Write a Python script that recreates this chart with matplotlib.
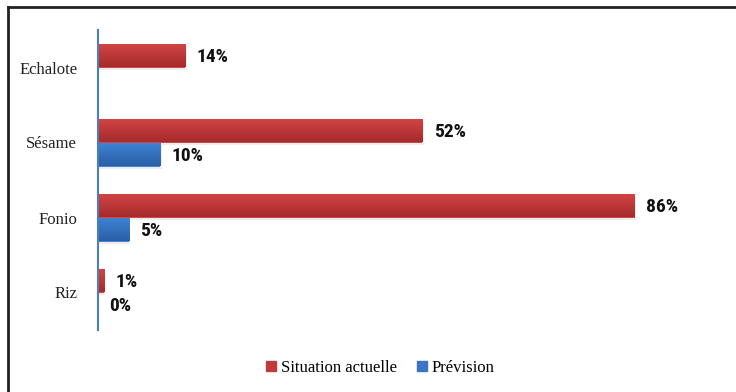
import matplotlib
matplotlib.use("Agg")
import matplotlib.pyplot as plt
import numpy as np
from matplotlib.lines import Line2D
from matplotlib.patches import Patch
from matplotlib.colors import LinearSegmentedColormap
from matplotlib import font_manager

# Data
categories = ["Riz", "Fonio", "Sésame", "Echalote"]
actuelle = [1, 86, 52, 14]      # Situation actuelle (%)
prevision = [0, 5, 10, None]    # Prévision (%), none for Echalote
series_names = ["Situation actuelle", "Prévision"]

red_top, red_bot = "#d44545", "#a52b2c"
blue_top, blue_bot = "#3f84d6", "#2a5fa6"


def pick_label_font(size):
    """Prefer a narrow bold sans face for the value labels."""
    wanted = ["Liberation Sans Narrow", "Roboto Condensed", "Open Sans Condensed",
              "Noto Sans Condensed", "DejaVu Sans"]
    entries = font_manager.fontManager.ttflist
    for fam in wanted:
        for e in entries:
            if e.name == fam and str(e.weight) in ("700", "bold", "800", "900") \
                    and ("ondensed" in str(e.stretch) or "arrow" in e.fname
                         or "ondensed" in e.fname):
                return font_manager.FontProperties(fname=e.fname, size=size)
    return font_manager.FontProperties(family="DejaVu Sans", weight="bold",
                                       stretch="condensed", size=size)


label_fp = pick_label_font(14)

fig = plt.figure(figsize=(7.36, 3.92), dpi=100)
W, H = 736, 392
ax = fig.add_axes([98 / W, 1 - 330 / H, 624 / W, 300 / H])

y = np.arange(len(categories))
h = 0.32


def gradient_bars(bars, top, bot):
    cmap = LinearSegmentedColormap.from_list("g", [bot, top])
    grad = np.linspace(0, 1, 64).reshape(-1, 1)
    for b in bars:
        x0, y0 = b.get_x(), b.get_y()
        w, hh = b.get_width(), b.get_height()
        if w <= 0:
            continue
        # soft drop shadow
        ax.add_patch(plt.Rectangle((x0 + 0.2, y0 - 0.03), w, hh,
                                   color="#000000", alpha=0.07, lw=0, zorder=1))
        im = ax.imshow(grad, extent=(x0, x0 + w, y0, y0 + hh), cmap=cmap,
                       aspect="auto", origin="lower", zorder=2,
                       interpolation="bilinear")
        im.set_clip_path(b)


prev_pos = [yy - h / 2 for yy, v in zip(y, prevision) if v is not None]
prev_vals = [v for v in prevision if v is not None]

bars_a = ax.barh(y + h / 2, actuelle, height=h, color=red_top, zorder=2,
                 label=series_names[0])
bars_p = ax.barh(prev_pos, prev_vals, height=h, color=blue_top, zorder=2,
                 label=series_names[1])
gradient_bars(bars_a, red_top, red_bot)
gradient_bars(bars_p, blue_top, blue_bot)

for yy, v in zip(y + h / 2, actuelle):
    ax.text(v + 1.8, yy - 0.02, f"{v}%", va="center", ha="left",
            fontproperties=label_fp, color="#111111")
for yy, v in zip(prev_pos, prev_vals):
    ax.text(v + 1.8, yy - 0.02, f"{v}%", va="center", ha="left",
            fontproperties=label_fp, color="#111111")

ax.set_xlim(0, 100)
ax.set_ylim(-0.5, len(categories) - 0.5)
ax.set_yticks(y)
ax.set_yticklabels(categories, family="Liberation Serif", fontsize=12,
                   color="#222222")
ax.tick_params(axis="y", length=0, pad=15)
ax.set_xticks([])
for s in ["top", "right", "bottom"]:
    ax.spines[s].set_visible(False)
ax.spines["left"].set_color("#4a7ebf")
ax.spines["left"].set_linewidth(1.5)

handles = [Patch(color="#c0393b"), Patch(color="#3a74c4")]
fig.legend(handles, series_names, loc="center",
           bbox_to_anchor=(380 / W, 1 - 368 / H),
           ncol=2, frameon=False, handlelength=0.6, handleheight=0.6,
           handletextpad=0.3, columnspacing=1.2,
           prop=dict(family="Liberation Serif", size=12))

# outer frame (top and left edges)
fig.add_artist(Line2D([8 / W, 1.0], [1 - 7 / H, 1 - 7 / H], color="#222222",
                      lw=2, transform=fig.transFigure))
fig.add_artist(Line2D([8 / W, 8 / W], [1 - 7 / H, 0.0], color="#222222",
                      lw=2, transform=fig.transFigure))

fig.savefig("out.png", dpi=100)
